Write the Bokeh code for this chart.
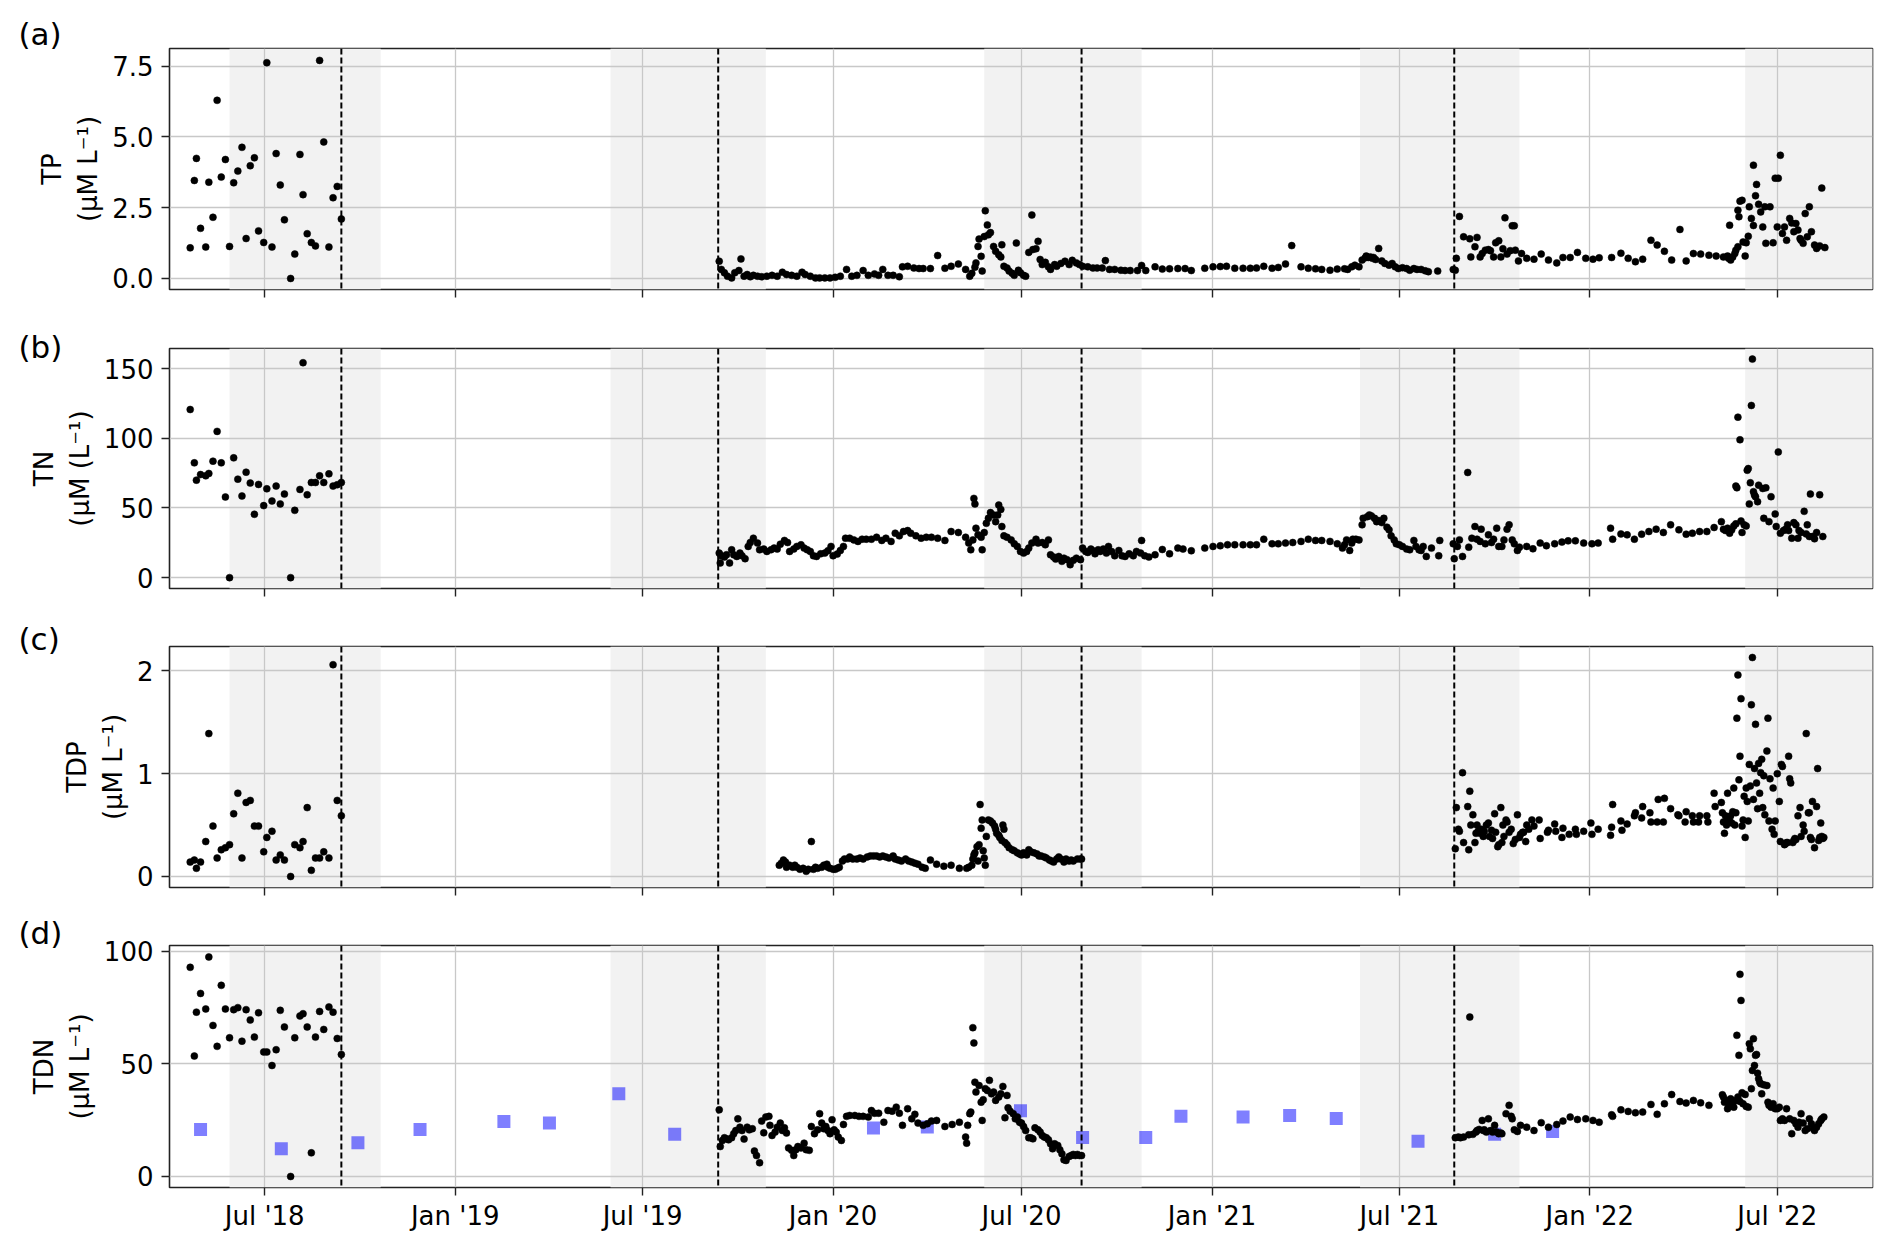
import pandas as pd
from bokeh.plotting import figure
from bokeh.layouts import column
from bokeh.models import (ColumnDataSource, Range1d, FixedTicker, PrintfTickFormatter,
                          BoxAnnotation, Span, Title)
from bokeh.embed import file_html
from bokeh.resources import INLINE

# ---------------- data ----------------
dates_2018 = ["2018-04-20", "2018-04-24", "2018-04-26", "2018-04-30", "2018-05-05", "2018-05-08",
              "2018-05-12", "2018-05-16", "2018-05-20", "2018-05-24", "2018-05-28", "2018-06-01",
              "2018-06-05", "2018-06-09", "2018-06-13", "2018-06-17", "2018-06-21", "2018-06-25",
              "2018-06-30", "2018-07-03", "2018-07-08", "2018-07-12", "2018-07-16", "2018-07-20",
              "2018-07-26", "2018-07-30", "2018-08-04", "2018-08-07", "2018-08-11", "2018-08-15",
              "2018-08-19", "2018-08-23", "2018-08-27", "2018-09-01", "2018-09-05", "2018-09-09",
              "2018-09-13"]
tp_2018 = [1.08, 3.46, 4.24, 1.77, 1.11, 3.40, 2.16, 6.29, 3.58, 4.20, 1.13, 3.38, 3.79, 4.63, 1.41,
           3.98, 4.26, 1.68, 1.27, 7.62, 1.11, 4.41, 3.30, 2.07, 0.0, 0.86, 4.38, 2.96, 1.58, 1.27,
           1.15, 7.70, 4.82, 1.11, 2.85, 3.25, 2.10]
tn_2018 = [120.7, 82.4, 70.0, 74.0, 73.1, 74.8, 83.6, 105.0, 82.4, 57.9, 0.0, 86.0, 70.7, 58.6, 75.7,
           67.9, 45.5, 66.9, 51.7, 63.8, 55.0, 65.7, 52.9, 60.0, 0.0, 48.3, 63.3, 154.3, 59.5, 68.3,
           68.3, 73.1, 68.3, 74.5, 65.7, 66.7, 68.3]
tdp_2018 = [0.14, 0.16, 0.08, 0.14, 0.34, 1.39, 0.49, 0.18, 0.26, 0.28, 0.31, 0.61, 0.81, 0.18, 0.72,
            0.74, 0.49, 0.49, 0.24, 0.38, 0.44, 0.16, 0.21, 0.16, 0.0, 0.31, 0.28, 0.34, 0.67, 0.06,
            0.18, 0.18, 0.24, 0.18, 2.06, 0.74, 0.59]
tdn_2018 = [92.9, 53.5, 73.0, 81.3, 74.4, 97.5, 67.1, 57.8, 84.9, 74.4, 61.6, 74.1, 75.0, 60.1, 74.1,
            69.5, 61.9, 72.7, 55.3, 55.3, 49.3, 56.3, 73.8, 66.4, 0.0, 61.6, 71.3, 72.3, 66.4, 10.5,
            61.9, 73.3, 65.3, 75.3, 73.0, 61.3, 54.2]

tp_later = [
    ("2019-09-13", 0.61), ("2019-09-15", 0.32), ("2019-09-18", 0.20), ("2019-09-21", 0.08), ("2019-09-25", 0.02),
    ("2019-09-28", 0.20), ("2019-10-02", 0.28), ("2019-10-04", 0.69), ("2019-10-07", 0.08), ("2019-10-10", 0.14),
    ("2019-10-13", 0.06), ("2019-10-16", 0.11), ("2019-10-20", 0.08), ("2019-10-24", 0.06), ("2019-10-29", 0.08),
    ("2019-11-03", 0.11), ("2019-11-08", 0.08), ("2019-11-13", 0.22), ("2019-11-17", 0.14), ("2019-11-22", 0.11),
    ("2019-11-27", 0.08), ("2019-12-02", 0.22), ("2019-12-05", 0.14), ("2019-12-10", 0.08), ("2019-12-15", 0.02),
    ("2019-12-19", 0.02), ("2019-12-24", 0.02), ("2019-12-29", 0.02), ("2020-01-03", 0.04), ("2020-01-08", 0.08),
    ("2020-01-14", 0.32), ("2020-01-19", 0.08), ("2020-01-24", 0.11), ("2020-01-30", 0.28), ("2020-02-04", 0.11),
    ("2020-02-10", 0.16), ("2020-02-14", 0.11), ("2020-02-18", 0.32), ("2020-02-23", 0.11), ("2020-02-28", 0.11),
    ("2020-03-05", 0.06), ("2020-03-08", 0.41), ("2020-03-13", 0.43), ("2020-03-19", 0.37), ("2020-03-24", 0.35),
    ("2020-03-28", 0.35), ("2020-04-04", 0.35), ("2020-04-11", 0.81), ("2020-04-18", 0.36), ("2020-04-24", 0.43),
    ("2020-05-01", 0.51), ("2020-05-08", 0.32), ("2020-05-12", 0.08), ("2020-05-14", 0.18), ("2020-05-17", 0.40),
    ("2020-05-18", 0.55), ("2020-05-20", 1.13), ("2020-05-21", 1.39), ("2020-05-23", 0.78), ("2020-05-24", 0.26),
    ("2020-05-26", 1.48), ("2020-05-27", 2.39), ("2020-05-29", 1.89), ("2020-05-30", 1.54), ("2020-06-01", 1.62),
    ("2020-06-04", 1.13), ("2020-06-06", 0.96), ("2020-06-09", 0.84), ("2020-06-11", 0.76), ("2020-06-12", 1.19),
    ("2020-06-14", 0.43), ("2020-06-17", 0.37), ("2020-06-19", 0.26), ("2020-06-22", 0.18), ("2020-06-24", 0.11),
    ("2020-06-26", 1.25), ("2020-06-28", 0.29), ("2020-06-30", 0.20), ("2020-07-03", 0.11), ("2020-07-05", 0.08),
    ("2020-07-08", 0.92), ("2020-07-11", 2.24), ("2020-07-12", 1.02), ("2020-07-15", 1.05), ("2020-07-17", 1.31),
    ("2020-07-19", 0.67), ("2020-07-21", 0.49), ("2020-07-24", 0.57), ("2020-07-27", 0.41), ("2020-07-29", 0.32),
    ("2020-08-02", 0.49), ("2020-08-04", 0.43), ("2020-08-08", 0.53), ("2020-08-12", 0.61), ("2020-08-16", 0.49),
    ("2020-08-19", 0.64), ("2020-08-23", 0.55), ("2020-08-26", 0.49), ("2020-08-29", 0.43), ("2020-09-03", 0.41),
    ("2020-09-08", 0.37), ("2020-09-12", 0.37), ("2020-09-17", 0.37), ("2020-09-20", 0.63), ("2020-09-24", 0.32),
    ("2020-09-29", 0.32), ("2020-10-05", 0.29), ("2020-10-09", 0.28), ("2020-10-14", 0.28), ("2020-10-21", 0.28),
    ("2020-10-25", 0.46), ("2020-10-29", 0.28), ("2020-11-07", 0.41), ("2020-11-14", 0.33), ("2020-11-21", 0.34),
    ("2020-11-29", 0.35), ("2020-12-06", 0.35), ("2020-12-12", 0.28), ("2020-12-25", 0.36), ("2021-01-02", 0.41),
    ("2021-01-09", 0.42), ("2021-01-15", 0.43), ("2021-01-23", 0.36), ("2021-01-31", 0.36), ("2021-02-07", 0.36),
    ("2021-02-13", 0.37), ("2021-02-20", 0.43), ("2021-02-28", 0.36), ("2021-03-06", 0.39), ("2021-03-13", 0.51),
    ("2021-03-19", 1.16), ("2021-03-28", 0.41), ("2021-04-04", 0.36), ("2021-04-11", 0.34), ("2021-04-17", 0.32),
    ("2021-04-25", 0.29), ("2021-05-02", 0.33), ("2021-05-09", 0.34), ("2021-05-12", 0.32), ("2021-05-16", 0.41),
    ("2021-05-19", 0.47), ("2021-05-23", 0.41), ("2021-05-26", 0.65), ("2021-05-29", 0.73), ("2021-05-30", 0.79),
    ("2021-06-01", 0.74), ("2021-06-03", 0.76), ("2021-06-05", 0.71), ("2021-06-06", 0.74), ("2021-06-08", 0.67),
    ("2021-06-11", 1.06), ("2021-06-14", 0.62), ("2021-06-17", 0.53), ("2021-06-21", 0.47), ("2021-06-24", 0.53),
    ("2021-06-27", 0.41), ("2021-06-30", 0.35), ("2021-07-04", 0.38), ("2021-07-08", 0.35), ("2021-07-11", 0.29),
    ("2021-07-15", 0.35), ("2021-07-18", 0.32), ("2021-07-22", 0.32), ("2021-07-26", 0.27), ("2021-07-29", 0.24),
    ("2021-08-07", 0.26), ("2021-08-22", 0.32),
    ("2021-08-24", 0.29), ("2021-08-25", 0.71), ("2021-08-28", 2.19), ("2021-09-01", 1.47), ("2021-09-07", 1.40),
    ("2021-09-08", 0.76), ("2021-09-12", 1.12), ("2021-09-14", 1.45), ("2021-09-17", 0.76), ("2021-09-19", 0.88),
    ("2021-09-22", 1.00), ("2021-09-25", 1.02), ("2021-09-27", 0.98), ("2021-09-30", 0.76), ("2021-10-02", 1.26),
    ("2021-10-05", 1.33), ("2021-10-07", 0.76), ("2021-10-09", 1.05), ("2021-10-11", 2.14), ("2021-10-13", 0.86),
    ("2021-10-16", 0.98), ("2021-10-18", 1.86), ("2021-10-20", 1.86), ("2021-10-21", 1.00), ("2021-10-24", 0.62),
    ("2021-10-27", 0.88), ("2021-11-01", 0.71), ("2021-11-08", 0.68), ("2021-11-15", 0.86), ("2021-11-22", 0.65),
    ("2021-11-30", 0.55), ("2021-12-06", 0.74), ("2021-12-13", 0.74), ("2021-12-20", 0.92), ("2021-12-28", 0.71),
    ("2022-01-04", 0.68), ("2022-01-10", 0.73), ("2022-01-22", 0.74), ("2022-01-31", 0.89), ("2022-02-07", 0.71),
    ("2022-02-14", 0.59), ("2022-02-21", 0.68), ("2022-03-01", 1.35), ("2022-03-07", 1.18), ("2022-03-14", 0.96),
    ("2022-03-21", 0.65), ("2022-03-29", 1.73), ("2022-04-04", 0.62), ("2022-04-11", 0.88), ("2022-04-18", 0.86),
    ("2022-04-26", 0.82), ("2022-05-03", 0.79), ("2022-05-10", 0.76), ("2022-05-14", 0.79), ("2022-05-15", 0.71),
    ("2022-05-16", 1.88), ("2022-05-17", 0.65), ("2022-05-19", 0.76), ("2022-05-21", 0.88), ("2022-05-22", 1.00),
    ("2022-05-24", 1.12), ("2022-05-24", 2.41), ("2022-05-25", 2.18), ("2022-05-26", 2.73), ("2022-05-28", 2.76),
    ("2022-05-29", 1.29), ("2022-05-31", 0.79), ("2022-06-01", 1.26), ("2022-06-03", 1.49), ("2022-06-04", 2.53),
    ("2022-06-06", 2.12), ("2022-06-08", 1.87), ("2022-06-08", 4.00), ("2022-06-10", 2.92), ("2022-06-11", 3.32),
    ("2022-06-13", 2.62), ("2022-06-15", 2.35), ("2022-06-17", 1.82), ("2022-06-19", 2.53), ("2022-06-20", 1.24),
    ("2022-06-24", 2.53), ("2022-06-27", 1.26), ("2022-06-29", 3.54), ("2022-07-01", 1.82), ("2022-07-02", 3.54),
    ("2022-07-04", 4.35), ("2022-07-06", 1.59), ("2022-07-08", 1.82), ("2022-07-10", 1.35), ("2022-07-13", 2.12),
    ("2022-07-15", 1.96), ("2022-07-17", 1.65), ("2022-07-19", 1.94), ("2022-07-21", 1.71), ("2022-07-23", 1.41),
    ("2022-07-24", 1.35), ("2022-07-26", 1.24), ("2022-07-28", 2.29), ("2022-07-30", 1.47), ("2022-08-01", 2.53),
    ("2022-08-03", 1.65), ("2022-08-06", 1.18), ("2022-08-08", 1.06), ("2022-08-11", 1.15), ("2022-08-13", 3.19),
    ("2022-08-16", 1.09),
]

tn_later = [
    ("2019-09-13", 17.6), ("2019-09-14", 10.5), ("2019-09-15", 15.7), ("2019-09-18", 14.8), ("2019-09-20", 16.4),
    ("2019-09-23", 10.5), ("2019-09-25", 20.0), ("2019-09-27", 16.4), ("2019-09-30", 15.2), ("2019-10-03", 17.6),
    ("2019-10-05", 15.7), ("2019-10-08", 13.6), ("2019-10-11", 22.4), ("2019-10-13", 25.2), ("2019-10-16", 28.3),
    ("2019-10-20", 24.8), ("2019-10-22", 20.0), ("2019-10-26", 20.5), ("2019-10-29", 18.8), ("2019-11-02", 20.0),
    ("2019-11-05", 21.2), ("2019-11-08", 20.5), ("2019-11-11", 24.0), ("2019-11-15", 26.7), ("2019-11-18", 25.2),
    ("2019-11-20", 18.8), ("2019-11-24", 20.5), ("2019-11-27", 22.4), ("2019-12-01", 23.6), ("2019-12-04", 21.2),
    ("2019-12-07", 20.0), ("2019-12-10", 18.8), ("2019-12-13", 15.7), ("2019-12-16", 15.2), ("2019-12-20", 17.1),
    ("2019-12-24", 17.6), ("2019-12-27", 19.3), ("2019-12-30", 22.4), ("2020-01-01", 15.7), ("2020-01-05", 16.9),
    ("2020-01-08", 19.5), ("2020-01-11", 22.4), ("2020-01-13", 28.3), ("2020-01-17", 28.3), ("2020-01-21", 27.1),
    ("2020-01-25", 26.0), ("2020-01-29", 27.6), ("2020-02-02", 27.6), ("2020-02-07", 27.6), ("2020-02-12", 29.0),
    ("2020-02-17", 26.7), ("2020-02-21", 28.3), ("2020-02-26", 26.0), ("2020-03-01", 31.9), ("2020-03-05", 30.0),
    ("2020-03-09", 33.1), ("2020-03-13", 33.8), ("2020-03-16", 31.9), ("2020-03-21", 30.0), ("2020-03-26", 28.3),
    ("2020-03-31", 29.0), ("2020-04-05", 29.0), ("2020-04-11", 28.3), ("2020-04-18", 26.7), ("2020-04-24", 33.1),
    ("2020-05-01", 32.4), ("2020-05-08", 29.0), ("2020-05-11", 24.8), ("2020-05-13", 20.0), ("2020-05-15", 27.1),
    ("2020-05-16", 56.9), ("2020-05-17", 52.9), ("2020-05-18", 35.5), ("2020-05-20", 30.7), ("2020-05-23", 29.0),
    ("2020-05-24", 20.0), ("2020-05-26", 32.4), ("2020-05-28", 39.0), ("2020-05-30", 42.6), ("2020-06-01", 46.7),
    ("2020-06-04", 45.0), ("2020-06-06", 40.2), ("2020-06-08", 45.0), ("2020-06-09", 52.1), ("2020-06-11", 49.0),
    ("2020-06-12", 36.7), ("2020-06-14", 30.0), ("2020-06-17", 29.0), ("2020-06-21", 27.1), ("2020-06-24", 24.3),
    ("2020-06-27", 22.4), ("2020-06-30", 18.8), ("2020-07-03", 17.6), ("2020-07-06", 18.8), ("2020-07-08", 21.2),
    ("2020-07-11", 24.8), ("2020-07-15", 27.6), ("2020-07-17", 24.8), ("2020-07-21", 25.2), ("2020-07-24", 23.6),
    ("2020-07-27", 27.1), ("2020-07-29", 16.4), ("2020-08-01", 14.8), ("2020-08-03", 13.3), ("2020-08-06", 15.2),
    ("2020-08-09", 11.7), ("2020-08-11", 14.0), ("2020-08-14", 12.9), ("2020-08-17", 9.3), ("2020-08-20", 12.4),
    ("2020-08-23", 14.0), ("2020-08-27", 12.9), ("2020-08-29", 21.2), ("2020-09-01", 18.8), ("2020-09-03", 18.1),
    ("2020-09-06", 20.5), ("2020-09-08", 19.3), ("2020-09-10", 17.1), ("2020-09-13", 20.0), ("2020-09-15", 18.8),
    ("2020-09-18", 20.5), ("2020-09-21", 17.6), ("2020-09-23", 22.4), ("2020-09-26", 18.8), ("2020-09-29", 15.7),
    ("2020-10-03", 19.5), ("2020-10-06", 15.7), ("2020-10-09", 15.2), ("2020-10-13", 17.1), ("2020-10-17", 15.7),
    ("2020-10-20", 18.8), ("2020-10-24", 17.6), ("2020-10-25", 26.7), ("2020-10-28", 15.7), ("2020-11-01", 14.8),
    ("2020-11-07", 16.4), ("2020-11-14", 20.2), ("2020-11-21", 17.1), ("2020-11-29", 21.2), ("2020-12-04", 20.5),
    ("2020-12-12", 19.3), ("2020-12-25", 21.2), ("2021-01-02", 22.4), ("2021-01-09", 22.9), ("2021-01-16", 23.6),
    ("2021-01-23", 23.6), ("2021-01-31", 23.6), ("2021-02-07", 23.6), ("2021-02-13", 23.6), ("2021-02-20", 27.6),
    ("2021-02-28", 24.3), ("2021-03-06", 24.3), ("2021-03-13", 24.8), ("2021-03-20", 25.2), ("2021-03-28", 26.0),
    ("2021-04-04", 27.6), ("2021-04-11", 26.7), ("2021-04-17", 26.7), ("2021-04-25", 26.0), ("2021-05-02", 24.3),
    ("2021-05-07", 21.2), ("2021-05-09", 23.6), ("2021-05-11", 27.1), ("2021-05-14", 19.5), ("2021-05-16", 24.8),
    ("2021-05-17", 27.6), ("2021-05-20", 27.6), ("2021-05-23", 27.1), ("2021-05-26", 37.9), ("2021-05-27", 42.6),
    ("2021-05-31", 43.8), ("2021-06-02", 45.0), ("2021-06-04", 44.3), ("2021-06-07", 42.6), ("2021-06-09", 40.2),
    ("2021-06-11", 41.0), ("2021-06-14", 39.5), ("2021-06-16", 42.6), ("2021-06-19", 36.2), ("2021-06-21", 34.3),
    ("2021-06-23", 30.0), ("2021-06-26", 27.1), ("2021-06-28", 24.3), ("2021-07-01", 23.6), ("2021-07-04", 22.4),
    ("2021-07-08", 20.5), ("2021-07-11", 20.0), ("2021-07-15", 26.7), ("2021-07-17", 22.4), ("2021-07-20", 20.0),
    ("2021-07-22", 19.5), ("2021-07-24", 22.4), ("2021-07-27", 15.2), ("2021-08-01", 21.2), ("2021-08-08", 15.7),
    ("2021-08-09", 26.7),
    ("2021-08-22", 24.3), ("2021-08-23", 13.6), ("2021-08-26", 22.4), ("2021-08-28", 27.1), ("2021-08-31", 15.2),
    ("2021-09-05", 75.5), ("2021-09-06", 21.9), ("2021-09-09", 28.3), ("2021-09-12", 36.7), ("2021-09-14", 27.6),
    ("2021-09-17", 26.0), ("2021-09-18", 34.8), ("2021-09-22", 24.3), ("2021-09-25", 30.7), ("2021-09-28", 25.2),
    ("2021-09-30", 27.6), ("2021-10-03", 35.5), ("2021-10-05", 22.4), ("2021-10-08", 22.4), ("2021-10-10", 27.1),
    ("2021-10-13", 34.8), ("2021-10-15", 37.9), ("2021-10-18", 27.1), ("2021-10-20", 24.3), ("2021-10-23", 19.5),
    ("2021-10-25", 21.9), ("2021-11-01", 22.4), ("2021-11-07", 20.7), ("2021-11-14", 24.8), ("2021-11-20", 22.9),
    ("2021-11-28", 24.3), ("2021-12-05", 25.5), ("2021-12-11", 26.4), ("2021-12-18", 26.4), ("2021-12-26", 24.8),
    ("2022-01-03", 24.3), ("2022-01-09", 24.8), ("2022-01-21", 35.5), ("2022-01-23", 27.6), ("2022-01-31", 31.4),
    ("2022-02-06", 30.7), ("2022-02-13", 27.6), ("2022-02-20", 31.2), ("2022-02-27", 33.1), ("2022-03-06", 34.8),
    ("2022-03-13", 32.4), ("2022-03-20", 37.9), ("2022-03-28", 34.3), ("2022-04-04", 31.2), ("2022-04-10", 31.9),
    ("2022-04-17", 33.1), ("2022-04-24", 33.1), ("2022-05-01", 36.0), ("2022-05-08", 40.2), ("2022-05-10", 34.8),
    ("2022-05-12", 33.8), ("2022-05-14", 35.5), ("2022-05-16", 31.9), ("2022-05-18", 34.3), ("2022-05-20", 37.1),
    ("2022-05-22", 38.6), ("2022-05-24", 115.2), ("2022-05-26", 99.0), ("2022-05-22", 65.7), ("2022-05-23", 64.5),
    ("2022-05-27", 40.7), ("2022-05-28", 32.4), ("2022-05-30", 37.9), ("2022-06-01", 37.1), ("2022-06-02", 77.1),
    ("2022-06-03", 78.3), ("2022-06-04", 52.9), ("2022-06-05", 68.1), ("2022-06-06", 123.6), ("2022-06-07", 156.9),
    ("2022-06-08", 61.7), ("2022-06-09", 59.3), ("2022-06-10", 58.1), ("2022-06-12", 54.5), ("2022-06-13", 66.4),
    ("2022-06-17", 64.0), ("2022-06-20", 64.5), ("2022-06-18", 42.6), ("2022-06-23", 40.2), ("2022-06-25", 58.1),
    ("2022-06-29", 45.7), ("2022-06-30", 36.7), ("2022-07-02", 90.2), ("2022-07-04", 31.9), ("2022-07-07", 33.8),
    ("2022-07-09", 34.8), ("2022-07-11", 37.9), ("2022-07-12", 33.8), ("2022-07-15", 28.3), ("2022-07-17", 39.5),
    ("2022-07-19", 37.9), ("2022-07-21", 28.3), ("2022-07-22", 33.8), ("2022-07-24", 32.4), ("2022-07-27", 47.6),
    ("2022-07-29", 31.4), ("2022-07-30", 37.9), ("2022-08-01", 29.5), ("2022-08-02", 60.0), ("2022-08-04", 29.5),
    ("2022-08-06", 27.9), ("2022-08-08", 32.4), ("2022-08-11", 59.5), ("2022-08-14", 29.5),
]

tdp_later = [
    ("2019-11-10", 0.11), ("2019-11-12", 0.13), ("2019-11-14", 0.16), ("2019-11-16", 0.14), ("2019-11-17", 0.09),
    ("2019-11-20", 0.11), ("2019-11-23", 0.09), ("2019-11-25", 0.11), ("2019-11-27", 0.09), ("2019-11-30", 0.07),
    ("2019-12-03", 0.08), ("2019-12-06", 0.05), ("2019-12-08", 0.07), ("2019-12-11", 0.34), ("2019-12-13", 0.07),
    ("2019-12-15", 0.09), ("2019-12-17", 0.08), ("2019-12-21", 0.09), ("2019-12-23", 0.11), ("2019-12-26", 0.12),
    ("2019-12-27", 0.09), ("2019-12-29", 0.08), ("2020-01-01", 0.07), ("2020-01-03", 0.07), ("2020-01-05", 0.08),
    ("2020-01-07", 0.09), ("2020-01-10", 0.15), ("2020-01-12", 0.17), ("2020-01-15", 0.17), ("2020-01-17", 0.19),
    ("2020-01-20", 0.17), ("2020-01-24", 0.17), ("2020-01-27", 0.18), ("2020-01-30", 0.17), ("2020-02-03", 0.19),
    ("2020-02-06", 0.20), ("2020-02-09", 0.20), ("2020-02-12", 0.20), ("2020-02-15", 0.19), ("2020-02-18", 0.20),
    ("2020-02-21", 0.19), ("2020-02-24", 0.18), ("2020-02-28", 0.20), ("2020-03-01", 0.17), ("2020-03-04", 0.16),
    ("2020-03-07", 0.15), ("2020-03-11", 0.17), ("2020-03-14", 0.15), ("2020-03-17", 0.14), ("2020-03-20", 0.13),
    ("2020-03-23", 0.12), ("2020-03-27", 0.09), ("2020-03-30", 0.08), ("2020-04-04", 0.16), ("2020-04-10", 0.12),
    ("2020-04-17", 0.10), ("2020-04-24", 0.11), ("2020-05-02", 0.08), ("2020-05-09", 0.08), ("2020-05-11", 0.09),
    ("2020-05-14", 0.11), ("2020-05-15", 0.17), ("2020-05-16", 0.21), ("2020-05-17", 0.23), ("2020-05-19", 0.29),
    ("2020-05-20", 0.15), ("2020-05-21", 0.31), ("2020-05-22", 0.70), ("2020-05-23", 0.47), ("2020-05-24", 0.55),
    ("2020-05-25", 0.25), ("2020-05-26", 0.18), ("2020-05-27", 0.11), ("2020-05-28", 0.39), ("2020-05-30", 0.55),
    ("2020-06-01", 0.54), ("2020-06-03", 0.52), ("2020-06-05", 0.49), ("2020-06-06", 0.46), ("2020-06-07", 0.42),
    ("2020-06-09", 0.40), ("2020-06-10", 0.38), ("2020-06-12", 0.35), ("2020-06-13", 0.50), ("2020-06-14", 0.46),
    ("2020-06-15", 0.33), ("2020-06-17", 0.31), ("2020-06-19", 0.28), ("2020-06-22", 0.26), ("2020-06-24", 0.25),
    ("2020-06-27", 0.23), ("2020-06-29", 0.22), ("2020-07-01", 0.21), ("2020-07-03", 0.23), ("2020-07-06", 0.21),
    ("2020-07-08", 0.26), ("2020-07-10", 0.24), ("2020-07-13", 0.23), ("2020-07-16", 0.22), ("2020-07-18", 0.20),
    ("2020-07-20", 0.20), ("2020-07-23", 0.19), ("2020-07-25", 0.18), ("2020-07-28", 0.16), ("2020-07-30", 0.15),
    ("2020-08-01", 0.14), ("2020-08-04", 0.17), ("2020-08-06", 0.19), ("2020-08-08", 0.17), ("2020-08-11", 0.14),
    ("2020-08-13", 0.17), ("2020-08-16", 0.15), ("2020-08-18", 0.16), ("2020-08-20", 0.15), ("2020-08-24", 0.17),
    ("2020-08-27", 0.17), ("2020-08-28", 0.17),
    ("2021-08-24", 0.27), ("2021-08-25", 0.67), ("2021-08-27", 0.46), ("2021-08-28", 0.44), ("2021-08-31", 1.01),
    ("2021-09-01", 0.33), ("2021-09-06", 0.26), ("2021-09-07", 0.83), ("2021-09-05", 0.68), ("2021-09-08", 0.50),
    ("2021-09-10", 0.60), ("2021-09-12", 0.33), ("2021-09-13", 0.42), ("2021-09-14", 0.50), ("2021-09-15", 0.44),
    ("2021-09-17", 0.42), ("2021-09-18", 0.46), ("2021-09-20", 0.39), ("2021-09-21", 0.44), ("2021-09-23", 0.50),
    ("2021-09-25", 0.52), ("2021-09-26", 0.39), ("2021-09-28", 0.45), ("2021-09-29", 0.37), ("2021-10-01", 0.61),
    ("2021-10-02", 0.43), ("2021-10-04", 0.29), ("2021-10-05", 0.31), ("2021-10-07", 0.67), ("2021-10-08", 0.33),
    ("2021-10-09", 0.50), ("2021-10-10", 0.39), ("2021-10-12", 0.55), ("2021-10-13", 0.53), ("2021-10-15", 0.43),
    ("2021-10-17", 0.46), ("2021-10-19", 0.32), ("2021-10-21", 0.36), ("2021-10-23", 0.60), ("2021-10-25", 0.38),
    ("2021-10-26", 0.41), ("2021-10-28", 0.43), ("2021-10-29", 0.43), ("2021-10-31", 0.34), ("2021-11-01", 0.50),
    ("2021-11-03", 0.46), ("2021-11-06", 0.55), ("2021-11-08", 0.49), ("2021-11-13", 0.55), ("2021-11-14", 0.37),
    ("2021-11-21", 0.43), ("2021-11-22", 0.45), ("2021-11-28", 0.51), ("2021-11-29", 0.44), ("2021-12-05", 0.38),
    ("2021-12-06", 0.47), ("2021-12-12", 0.41), ("2021-12-18", 0.46), ("2021-12-19", 0.41), ("2021-12-26", 0.44),
    ("2022-01-02", 0.52), ("2022-01-03", 0.41), ("2022-01-09", 0.46), ("2022-01-21", 0.40), ("2022-01-22", 0.48),
    ("2022-01-23", 0.70), ("2022-01-31", 0.54), ("2022-02-01", 0.45), ("2022-02-06", 0.51), ("2022-02-13", 0.59),
    ("2022-02-14", 0.62), ("2022-02-20", 0.57), ("2022-02-21", 0.68), ("2022-02-28", 0.62), ("2022-03-01", 0.53),
    ("2022-03-07", 0.53), ("2022-03-08", 0.75), ("2022-03-13", 0.53), ("2022-03-14", 0.76), ("2022-03-20", 0.66),
    ("2022-03-27", 0.60), ("2022-03-28", 0.59), ("2022-04-03", 0.53), ("2022-04-04", 0.63), ("2022-04-10", 0.59),
    ("2022-04-11", 0.53), ("2022-04-16", 0.53), ("2022-04-17", 0.59), ("2022-04-24", 0.59), ("2022-04-25", 0.53),
    ("2022-05-01", 0.81), ("2022-05-02", 0.68), ("2022-05-08", 0.72), ("2022-05-09", 0.62), ("2022-05-10", 0.53),
    ("2022-05-11", 0.42), ("2022-05-12", 0.59), ("2022-05-13", 0.50), ("2022-05-14", 0.81), ("2022-05-15", 0.55),
    ("2022-05-16", 0.54), ("2022-05-17", 0.59), ("2022-05-18", 0.52), ("2022-05-19", 0.63), ("2022-05-20", 0.86),
    ("2022-05-21", 0.50), ("2022-05-22", 0.62), ("2022-05-23", 1.54), ("2022-05-24", 1.96), ("2022-05-25", 0.94),
    ("2022-05-26", 1.17), ("2022-05-27", 1.73), ("2022-05-28", 0.49), ("2022-05-29", 0.55), ("2022-05-30", 0.78),
    ("2022-05-31", 0.38), ("2022-06-01", 0.86), ("2022-06-02", 0.73), ("2022-06-03", 0.54), ("2022-06-04", 1.09),
    ("2022-06-05", 0.88), ("2022-06-06", 1.67), ("2022-06-07", 2.13), ("2022-06-08", 0.75), ("2022-06-09", 1.05),
    ("2022-06-10", 1.48), ("2022-06-11", 0.91), ("2022-06-12", 0.66), ("2022-06-13", 1.10), ("2022-06-14", 0.81),
    ("2022-06-15", 1.01), ("2022-06-16", 1.14), ("2022-06-17", 0.67), ("2022-06-18", 0.98), ("2022-06-19", 0.60),
    ("2022-06-21", 1.22), ("2022-06-22", 1.54), ("2022-06-23", 0.54), ("2022-06-24", 0.95), ("2022-06-26", 0.46),
    ("2022-06-27", 0.86), ("2022-06-28", 0.41), ("2022-06-29", 0.54), ("2022-07-01", 1.00), ("2022-07-03", 0.73),
    ("2022-07-04", 0.34), ("2022-07-05", 1.09), ("2022-07-06", 1.07), ("2022-07-08", 0.31), ("2022-07-09", 0.32),
    ("2022-07-10", 0.33), ("2022-07-11", 0.33), ("2022-07-12", 1.17), ("2022-07-13", 0.95), ("2022-07-14", 0.91),
    ("2022-07-16", 0.33), ("2022-07-17", 0.35), ("2022-07-18", 0.37), ("2022-07-19", 0.36), ("2022-07-21", 0.59),
    ("2022-07-23", 0.67), ("2022-07-24", 0.39), ("2022-07-26", 0.50), ("2022-07-27", 0.44), ("2022-07-29", 1.39),
    ("2022-07-31", 0.62), ("2022-08-01", 0.62), ("2022-08-02", 0.38), ("2022-08-03", 0.36), ("2022-08-04", 0.73),
    ("2022-08-06", 0.28), ("2022-08-08", 0.68), ("2022-08-09", 1.05), ("2022-08-10", 0.35), ("2022-08-11", 0.38),
    ("2022-08-12", 0.52), ("2022-08-13", 0.39), ("2022-08-14", 0.37), ("2022-08-15", 0.38),
]

tdn_later = [
    ("2019-09-13", 29.6), ("2019-09-14", 13.3), ("2019-09-16", 16.0), ("2019-09-18", 17.2), ("2019-09-20", 16.7),
    ("2019-09-22", 16.3), ("2019-09-25", 17.2), ("2019-09-27", 19.0), ("2019-09-29", 20.4), ("2019-10-01", 25.6),
    ("2019-10-03", 21.9), ("2019-10-05", 20.4), ("2019-10-07", 16.6), ("2019-10-10", 21.9), ("2019-10-12", 20.7),
    ("2019-10-15", 21.2), ("2019-10-17", 11.3), ("2019-10-19", 9.3), ("2019-10-22", 6.1), ("2019-10-24", 24.6),
    ("2019-10-26", 19.4), ("2019-10-28", 26.4), ("2019-10-31", 26.7), ("2019-11-01", 22.7), ("2019-11-03", 18.2),
    ("2019-11-06", 19.7), ("2019-11-08", 21.9), ("2019-11-11", 23.7), ("2019-11-13", 20.4), ("2019-11-15", 21.6),
    ("2019-11-17", 19.3), ("2019-11-19", 12.7), ("2019-11-22", 11.6), ("2019-11-24", 9.3), ("2019-11-26", 11.9),
    ("2019-11-28", 13.3), ("2019-12-01", 12.7), ("2019-12-04", 14.8), ("2019-12-06", 11.9), ("2019-12-09", 11.6),
    ("2019-12-11", 22.2), ("2019-12-14", 19.0), ("2019-12-17", 20.7), ("2019-12-19", 27.9), ("2019-12-21", 23.7),
    ("2019-12-23", 21.2), ("2019-12-25", 22.2), ("2019-12-27", 20.4), ("2019-12-29", 19.0), ("2019-12-31", 25.2),
    ("2020-01-02", 20.7), ("2020-01-04", 19.7), ("2020-01-06", 17.5), ("2020-01-09", 16.0), ("2020-01-11", 23.1),
    ("2020-01-14", 26.7), ("2020-01-17", 27.1), ("2020-01-22", 27.1), ("2020-01-26", 26.7), ("2020-01-30", 26.7),
    ("2020-02-04", 26.4), ("2020-02-07", 29.3), ("2020-02-10", 28.1), ("2020-02-14", 28.1), ("2020-02-19", 24.1),
    ("2020-02-23", 29.3), ("2020-02-27", 29.0), ("2020-03-02", 30.8), ("2020-03-05", 28.1), ("2020-03-08", 22.7),
    ("2020-03-13", 30.1), ("2020-03-17", 25.6), ("2020-03-20", 27.6), ("2020-03-23", 23.7), ("2020-03-28", 22.7),
    ("2020-04-01", 23.4), ("2020-04-05", 24.6), ("2020-04-10", 24.9), ("2020-04-18", 22.2), ("2020-04-25", 23.1),
    ("2020-05-02", 24.1), ("2020-05-08", 17.5), ("2020-05-09", 14.8), ("2020-05-10", 22.7), ("2020-05-12", 27.9),
    ("2020-05-13", 28.6), ("2020-05-15", 66.1), ("2020-05-16", 59.3), ("2020-05-17", 41.9), ("2020-05-18", 37.5),
    ("2020-05-21", 40.4), ("2020-05-23", 33.0), ("2020-05-24", 24.9), ("2020-05-25", 34.1), ("2020-05-27", 39.0),
    ("2020-05-29", 38.2), ("2020-05-31", 42.7), ("2020-06-02", 36.7), ("2020-06-04", 37.5), ("2020-06-06", 33.8),
    ("2020-06-09", 35.3), ("2020-06-11", 36.7), ("2020-06-13", 40.0), ("2020-06-15", 26.1), ("2020-06-17", 36.0),
    ("2020-06-18", 30.5), ("2020-06-20", 29.0), ("2020-06-23", 27.9), ("2020-06-25", 25.6), ("2020-06-27", 26.4),
    ("2020-06-29", 24.1), ("2020-07-01", 23.7), ("2020-07-03", 22.2), ("2020-07-05", 20.4), ("2020-07-08", 17.2),
    ("2020-07-10", 17.2), ("2020-07-12", 16.7), ("2020-07-14", 21.6), ("2020-07-17", 20.7), ("2020-07-19", 19.7),
    ("2020-07-21", 18.2), ("2020-07-23", 17.5), ("2020-07-25", 17.2), ("2020-07-27", 16.3), ("2020-07-29", 14.5),
    ("2020-07-31", 12.3), ("2020-08-02", 14.5), ("2020-08-05", 13.8), ("2020-08-07", 11.9), ("2020-08-09", 10.1),
    ("2020-08-11", 7.4), ("2020-08-13", 7.1), ("2020-08-16", 8.9), ("2020-08-18", 9.3), ("2020-08-20", 9.8),
    ("2020-08-22", 9.3), ("2020-08-24", 9.8), ("2020-08-26", 9.3), ("2020-08-28", 9.3),
    ("2021-08-24", 17.2), ("2021-08-27", 17.5), ("2021-08-29", 17.2), ("2021-09-01", 17.5), ("2021-09-07", 70.8),
    ("2021-09-06", 18.5), ("2021-09-10", 18.7), ("2021-09-13", 19.7), ("2021-09-14", 20.4), ("2021-09-16", 20.9),
    ("2021-09-19", 24.9), ("2021-09-20", 20.4), ("2021-09-21", 20.7), ("2021-09-23", 19.7), ("2021-09-25", 25.6),
    ("2021-09-27", 20.4), ("2021-09-29", 19.7), ("2021-10-01", 22.7), ("2021-10-03", 19.7), ("2021-10-05", 19.0),
    ("2021-10-07", 19.3), ("2021-10-08", 19.0), ("2021-10-12", 27.9), ("2021-10-15", 31.6), ("2021-10-17", 26.7),
    ("2021-10-18", 25.6), ("2021-10-20", 20.7), ("2021-10-23", 20.0), ("2021-10-26", 22.7), ("2021-11-01", 21.9),
    ("2021-11-08", 20.4), ("2021-11-15", 23.9), ("2021-11-22", 21.9), ("2021-11-30", 23.1), ("2021-12-06", 24.6),
    ("2021-12-13", 26.4), ("2021-12-20", 25.3), ("2021-12-28", 25.6), ("2022-01-04", 24.9), ("2022-01-10", 24.1),
    ("2022-01-22", 27.4), ("2022-01-23", 26.7), ("2022-01-31", 29.6), ("2022-02-07", 28.9), ("2022-02-14", 28.3),
    ("2022-02-21", 28.6), ("2022-03-01", 32.0), ("2022-03-07", 27.6), ("2022-03-14", 32.3), ("2022-03-21", 36.4),
    ("2022-03-29", 33.3), ("2022-04-04", 32.6), ("2022-04-11", 33.8), ("2022-04-18", 32.7), ("2022-04-26", 31.6),
    ("2022-05-09", 36.3), ("2022-05-10", 35.3), ("2022-05-11", 33.0), ("2022-05-13", 33.8), ("2022-05-14", 30.1),
    ("2022-05-15", 32.3), ("2022-05-17", 34.5), ("2022-05-19", 32.6), ("2022-05-20", 30.8), ("2022-05-22", 33.8),
    ("2022-05-24", 35.3), ("2022-05-26", 33.3), ("2022-05-28", 37.2), ("2022-05-29", 32.3), ("2022-05-31", 36.4),
    ("2022-06-01", 31.1), ("2022-06-03", 30.8), ("2022-05-23", 62.7), ("2022-05-25", 53.8), ("2022-05-26", 89.8),
    ("2022-05-27", 78.2), ("2022-06-04", 59.0), ("2022-06-05", 56.7), ("2022-06-06", 39.0), ("2022-06-07", 47.1),
    ("2022-06-08", 61.2), ("2022-06-09", 49.3), ("2022-06-10", 53.8), ("2022-06-11", 54.2), ("2022-06-12", 45.9),
    ("2022-06-13", 43.4), ("2022-06-14", 41.9), ("2022-06-15", 41.2), ("2022-06-16", 36.7), ("2022-06-18", 40.7),
    ("2022-06-21", 40.4), ("2022-06-22", 33.0), ("2022-06-23", 31.6), ("2022-06-25", 30.8), ("2022-06-27", 32.3),
    ("2022-06-29", 30.1), ("2022-07-01", 30.1), ("2022-07-03", 30.8), ("2022-07-04", 24.9), ("2022-07-06", 25.6),
    ("2022-07-08", 24.9), ("2022-07-10", 30.1), ("2022-07-13", 25.6), ("2022-07-15", 19.0), ("2022-07-17", 24.9),
    ("2022-07-19", 23.4), ("2022-07-21", 21.9), ("2022-07-22", 24.1), ("2022-07-24", 27.9), ("2022-07-26", 23.7),
    ("2022-07-28", 20.4), ("2022-07-30", 21.2), ("2022-08-01", 25.6), ("2022-08-03", 23.4), ("2022-08-05", 21.2),
    ("2022-08-06", 20.4), ("2022-08-08", 21.9), ("2022-08-10", 23.4), ("2022-08-12", 24.9), ("2022-08-13", 25.6),
    ("2022-08-15", 26.4),
]

# blue squares in panel (d)
tdn_ref_dates = ["2018-04-30", "2018-07-17", "2018-09-29", "2018-11-28", "2019-02-17", "2019-04-02",
                 "2019-06-08", "2019-08-01", "2020-02-09", "2020-04-01", "2020-06-30", "2020-08-29",
                 "2020-10-29", "2020-12-02", "2021-01-31", "2021-03-17", "2021-05-01", "2021-07-19",
                 "2021-10-01", "2021-11-26"]
tdn_ref_values = [20.9, 12.3, 15.0, 20.9, 24.4, 23.8, 36.7, 18.8, 21.5, 22.0, 29.2, 17.3, 17.3, 26.8,
                  26.4, 27.1, 25.7, 15.6, 18.7, 20.0]

season_start = ["2018-05-28", "2019-05-31", "2020-05-26", "2021-05-24", "2022-05-31"]
season_end = ["2018-10-21", "2019-10-28", "2020-10-25", "2021-10-25", "2022-10-31"]
event_dates = ["2018-09-13", "2019-09-12", "2020-08-28", "2021-08-23"]

tick_dates = ["2018-07-01", "2019-01-01", "2019-07-01", "2020-01-01", "2020-07-01",
              "2021-01-01", "2021-07-01", "2022-01-01", "2022-07-01"]
tick_labels = ["Jul '18", "Jan '19", "Jul '19", "Jan '20", "Jul '20",
               "Jan '21", "Jul '21", "Jan '22", "Jul '22"]
x_start, x_end = "2018-03-31", "2022-10-01"


# ---------------- helpers ----------------
def ms(d):
    return int(pd.Timestamp(d).timestamp() * 1000)


def series(base_dates, base_vals, later):
    d = list(base_dates) + [p[0] for p in later]
    v = list(base_vals) + [p[1] for p in later]
    return d, v


FONT = "DejaVu Sans"
FIG_W = 1884
LEFT = 169
FRAME_W = 1703
tick_ms = [ms(d) for d in tick_dates]

panels = [
    dict(tag="(a)", ylabel="TP\n(µM L⁻¹)", data=series(dates_2018, tp_2018, tp_later),
         yr=(-0.39, 8.12), yt=[0, 2.5, 5.0, 7.5], fmt="%.1f", top=48, fh=241, bot=20, tagso=-6),
    dict(tag="(b)", ylabel="TN\n(µM (L⁻¹)", data=series(dates_2018, tn_2018, tn_later),
         yr=(-7.8, 164.5), yt=[0, 50, 100, 150], fmt="%d", top=39, fh=240, bot=20, tagso=-32),
    dict(tag="(c)", ylabel="TDP\n(µM L⁻¹)", data=series(dates_2018, tdp_2018, tdp_later),
         yr=(-0.107, 2.237), yt=[0, 1, 2], fmt="%d", top=38, fh=241, bot=20, tagso=-20),
    dict(tag="(d)", ylabel="TDN\n(µM L⁻¹)", data=series(dates_2018, tdn_2018, tdn_later),
         yr=(-4.9, 102.6), yt=[0, 50, 100], fmt="%d", top=38, fh=242, bot=50, tagso=-11),
]

figs = []
for i, pc in enumerate(panels):
    last = (i == len(panels) - 1)
    h = pc["top"] + pc["fh"] + pc["bot"]
    p = figure(width=FIG_W, height=h, x_axis_type="datetime",
               x_range=Range1d(pd.Timestamp(x_start), pd.Timestamp(x_end)),
               y_range=Range1d(*pc["yr"]),
               output_backend="svg", toolbar_location=None,
               min_border_left=LEFT, min_border_right=FIG_W - LEFT - FRAME_W,
               min_border_top=pc["top"], min_border_bottom=pc["bot"])
    p.background_fill_color = "white"
    p.border_fill_color = "white"
    p.outline_line_color = "#222222"
    p.outline_line_width = 1.6

    # seasonal shading
    for s, e in zip(season_start, season_end):
        p.add_layout(BoxAnnotation(left=ms(s), right=ms(e), fill_color="#f2f2f2",
                                   fill_alpha=1.0, line_color=None, level="image"))

    # axes
    p.xaxis.ticker = FixedTicker(ticks=tick_ms)
    p.xgrid.ticker = FixedTicker(ticks=tick_ms)
    p.yaxis.ticker = FixedTicker(ticks=pc["yt"])
    p.ygrid.ticker = FixedTicker(ticks=pc["yt"])
    p.yaxis.formatter = PrintfTickFormatter(format=pc["fmt"])
    for ax in (p.xaxis[0], p.yaxis[0]):
        ax.axis_line_color = None
        ax.major_tick_in = 0
        ax.major_tick_out = 8
        ax.major_tick_line_color = "#222222"
        ax.major_tick_line_width = 1.4
        ax.minor_tick_line_color = None
        ax.major_label_text_font = FONT
        ax.major_label_text_font_size = "26px"
        ax.major_label_text_color = "black"
        ax.major_label_standoff = 8
    if last:
        p.xaxis.major_label_overrides = {t: lab for t, lab in zip(tick_ms, tick_labels)}
        p.xaxis.major_label_standoff = 5
    else:
        p.xaxis.major_label_overrides = {t: "" for t in tick_ms}
        p.xaxis.major_label_text_font_size = "0px"
        p.xaxis.major_label_standoff = 0

    p.yaxis.axis_label = pc["ylabel"]
    p.yaxis.axis_label_text_font = FONT
    p.yaxis.axis_label_text_font_size = "26px"
    p.yaxis.axis_label_text_font_style = "normal"
    p.yaxis.axis_label_text_color = "black"
    p.yaxis.axis_label_standoff = 6

    for g in (p.xgrid[0], p.ygrid[0]):
        g.grid_line_color = "#c8c8c8"
        g.grid_line_width = 1.3

    # event lines
    for d in event_dates:
        p.add_layout(Span(location=ms(d), dimension="height", line_color="black",
                          line_dash="6 3", line_width=2))

    dates, vals = pc["data"]
    src = ColumnDataSource(dict(x=pd.to_datetime(dates), y=vals))
    if last:
        rsrc = ColumnDataSource(dict(x=pd.to_datetime(tdn_ref_dates), y=tdn_ref_values))
        p.scatter("x", "y", source=rsrc, marker="square", size=13,
                  fill_color="blue", fill_alpha=0.5, line_color=None)
    p.scatter("x", "y", source=src, marker="circle", size=7,
              fill_color="black", line_color="black", line_width=0.5)

    p.add_layout(Title(text=pc["tag"], align="left", offset=-151, standoff=pc["tagso"],
                       text_font=FONT, text_font_size="31px", text_font_style="normal",
                       text_color="black"), "above")
    figs.append(p)

layout = column(*figs, spacing=0)
open("out.html", "w").write(file_html(layout, INLINE))
